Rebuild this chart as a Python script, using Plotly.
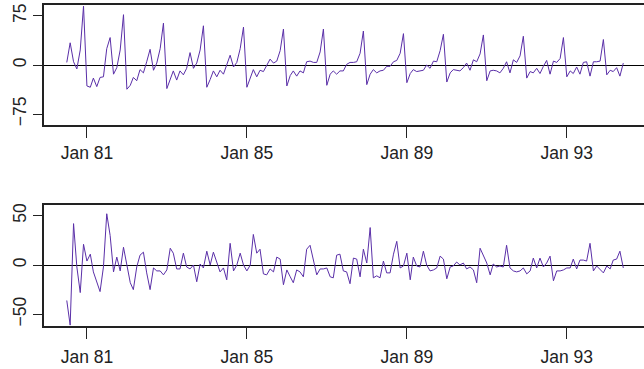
import pandas as pd
import plotly.graph_objects as go

# Monthly series, Jul 1980 - Jun 1994
months = pd.date_range("1980-07-01", periods=168, freq="MS")

# Upper panel: seasonal component (December peaks)
seasonal = [
    4, 34, 5, -6, 23, 90, -32, -34, -20, -33, -19, -18,
    25, 42, -14, -4, 23, 77, -37, -31, -19, -24, -7, -12,
    5, 24, -8, 3, 25, 64, -36, -21, -9, -23, -9, -15,
    -5, 19, -5, 3, 23, 60, -34, -22, -9, -18, -8, -14,
    0, 15, -3, 4, 25, 58, -34, -19, -7, -18, -8, -10,
    0, 9, 3, 6, 22, 55, -32, -16, -9, -17, -9, -12,
    5, 6, 4, 4, 20, 55, -31, -14, -9, -14, -9, -9,
    1, 4, 4, 5, 18, 52, -30, -14, -7, -12, -9, -8,
    -2, -2, 5, 7, 18, 48, -27, -13, -7, -10, -9, -8,
    0, -5, 6, 5, 22, 47, -26, -12, -7, -8, -9, -4,
    3, -8, 8, 5, 17, 46, -24, -9, -8, -9, -12, -5,
    5, -12, 8, 4, 14, 44, -20, -10, -12, -5, -13, -2,
    7, -14, 6, 4, 10, 42, -18, -9, -13, -3, -14, 4,
    5, -17, 5, 5, 6, 39, -15, -8, -10, -4, -17, 3,
]

# Lower panel: irregular component
irregular = [
    -36, -61, 42, -2, -28, 21, 4, 11, -7, -18, -27, -2,
    52, 30, -7, 8, -6, 18, -2, -18, -25, -2, 10, 13,
    -8, -25, -3, -6, -6, -10, -5, 17, 12, -4, -4, 12,
    -2, -4, 0, -17, 1, -3, 14, 0, 13, 2, -7, -3,
    -15, 22, -6, 0, 12, 0, -6, 0, 31, 12, 16, -9,
    -10, -4, -7, 8, 6, -20, -5, -12, -18, -5, -7, -12,
    16, 20, 5, -10, -4, -4, -3, -12, -13, 10, 11, -6,
    -7, -19, 7, 6, -12, 16, 2, 38, -13, -11, -13, 4,
    -8, -8, 11, 24, -3, -1, 12, -15, 8, -1, -2, 14,
    0, -6, -5, -3, 9, 6, -14, -2, -1, 3, 0, 2,
    -4, -2, -5, -18, 17, 9, 2, -10, 1, -2, -1, -2,
    20, -3, -6, -7, -6, -3, -9, -6, 7, -3, 7, -2,
    2, 9, -16, -6, -6, -5, -3, -3, 6, -4, 5, 5,
    4, 22, -6, -1, -5, -8, -1, -4, 5, 6, 14, -3,
]

tick_dates = ["1981-01-01", "1985-01-01", "1989-01-01", "1993-01-01"]
tick_text = ["Jan 81", "Jan 85", "Jan 89", "Jan 93"]

top_ticks = [-75, 0, 75]
bottom_ticks = [-50, 0, 50]

line_color = "#5a2fa8"
font = dict(family="Liberation Sans, Arial, sans-serif", size=17.5, color="#222222")

fig = go.Figure()
fig.add_trace(go.Scatter(x=months, y=seasonal, mode="lines",
                         line=dict(color=line_color, width=1),
                         xaxis="x", yaxis="y", showlegend=False))
fig.add_trace(go.Scatter(x=months, y=irregular, mode="lines",
                         line=dict(color=line_color, width=1),
                         xaxis="x2", yaxis="y2", showlegend=False))

x_range = ["1979-12-06", "1994-12-07"]
xcommon = dict(
    range=x_range, tickvals=tick_dates, ticktext=tick_text,
    showgrid=False, zeroline=False, showline=True, mirror=True,
    linecolor="#222222", linewidth=1.5,
    ticks="outside", ticklen=11, tickwidth=1.2, tickcolor="#222222",
    tickfont=font,
)
ycommon = dict(
    showgrid=False, showline=True, mirror=False,
    linecolor="#222222", linewidth=1.5,
    zeroline=True, zerolinecolor="#000000", zerolinewidth=1,
    ticks="outside", ticklen=9, tickwidth=1.2, tickcolor="#222222",
    tickangle=-90, tickfont=font,
)

fig.update_layout(
    width=644, height=369,
    margin=dict(l=44, r=0, t=5, b=43),
    paper_bgcolor="white", plot_bgcolor="white",
    xaxis=dict(xcommon, domain=[0, 1], anchor="y"),
    yaxis=dict(ycommon, domain=[0.626, 1.0], range=[-91.8, 91.8],
               tickvals=top_ticks, anchor="x"),
    xaxis2=dict(xcommon, domain=[0, 1], anchor="y2", ticklabelstandoff=3),
    yaxis2=dict(ycommon, domain=[0.0, 0.377], range=[-61.9, 60.9],
                tickvals=bottom_ticks, anchor="x2"),
)

fig.write_html("out.html")
